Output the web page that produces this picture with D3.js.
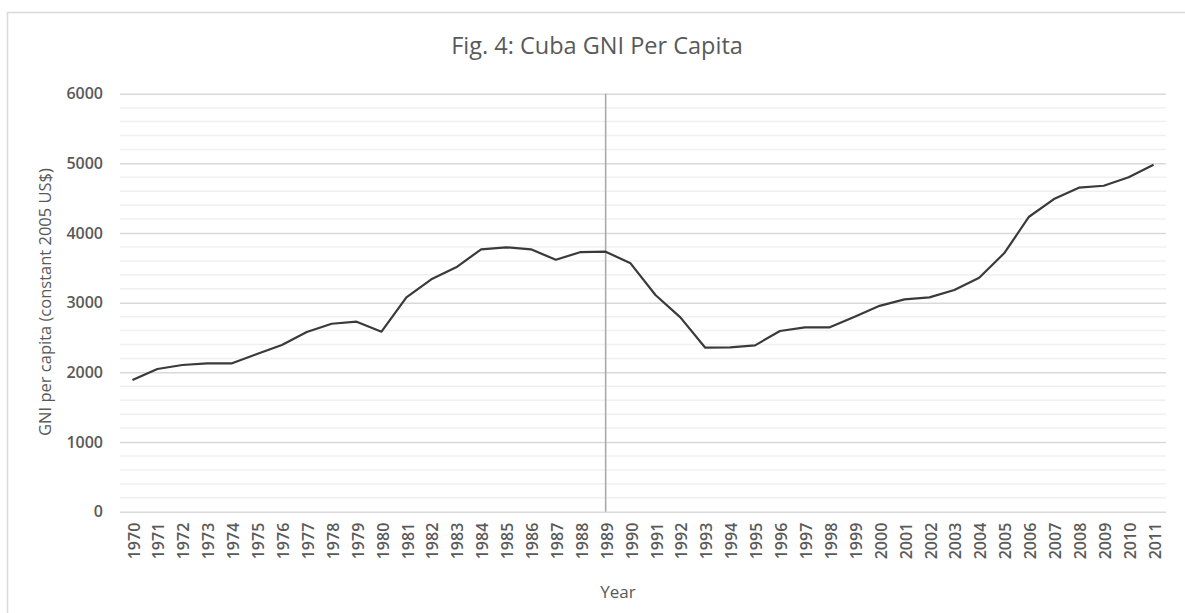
<!DOCTYPE html>
<html>
<head>
<meta charset="utf-8">
<script src="https://cdn.jsdelivr.net/npm/d3@7"></script>
<style>
  html, body { margin: 0; padding: 0; background: #fff; }
  svg { display: block; font-family: "Open Sans", "Noto Sans", sans-serif; }
</style>
</head>
<body>
<svg id="chart" width="1185" height="613"></svg>
<script>
const years = ["1970","1971","1972","1973","1974","1975","1976","1977","1978","1979","1980",
  "1981","1982","1983","1984","1985","1986","1987","1988","1989","1990","1991","1992","1993",
  "1994","1995","1996","1997","1998","1999","2000","2001","2002","2003","2004","2005","2006",
  "2007","2008","2009","2010","2011"];
const gniValues = [1890,2048,2106,2130,2130,2263,2392,2579,2698,2727,2584,
  3077,3336,3508,3766,3795,3766,3617,3727,3732,3565,3110,2790,2354,
  2360,2388,2594,2647,2647,2799,2955,3048,3077,3182,3359,3709,4234,
  4488,4651,4679,4800,4981];
const yTicks = [0,1000,2000,3000,4000,5000,6000];
const markerYear = "1989";
const titleText = "Fig. 4: Cuba GNI Per Capita";
const yTitle = "GNI per capita (constant 2005 US$)";
const xTitle = "Year";

const svg = d3.select("#chart");
const plotL = 120, plotR = 1166, plotT = 93.7, plotB = 511.7;

// frame
svg.append("rect").attr("x", 7.5).attr("y", 12.5).attr("width", 1190).attr("height", 620)
  .attr("fill", "#fff").attr("stroke", "#d9d9d9").attr("stroke-width", 1.5);

const x = d3.scaleBand().domain(years).range([plotL, plotR]).padding(0);
const y = d3.scaleLinear().domain([0, 6000]).range([plotB, plotT]);

// minor gridlines
const minor = d3.range(0, 6001, 200).filter(v => v % 1000 !== 0);
svg.append("g").selectAll("line").data(minor).join("line")
  .attr("x1", plotL).attr("x2", plotR)
  .attr("y1", d => y(d)).attr("y2", d => y(d))
  .attr("stroke", "#f0f0f0").attr("stroke-width", 1.5);

// major gridlines via axis
const yAxis = d3.axisLeft(y).tickValues(yTicks).tickFormat(d3.format("d"))
  .tickSize(-(plotR - plotL)).tickPadding(17);
const gy = svg.append("g").attr("transform", `translate(${plotL},0)`).call(yAxis);
gy.select(".domain").remove();
gy.selectAll(".tick line").attr("stroke", "#d9d9d9").attr("stroke-width", 1.5);
gy.selectAll(".tick text").attr("fill", "#595959").style("font-size", "16px")
  .style("font-weight", "600").attr("font-family", "Open Sans");

// x axis
const xAxis = d3.axisBottom(x).tickSize(0).tickPadding(0);
const gx = svg.append("g").attr("transform", `translate(0,${plotB})`).call(xAxis);
gx.select(".domain").remove();
gx.selectAll(".tick text")
  .attr("fill", "#595959").style("font-size", "16px").style("font-weight", "600")
  .attr("font-family", "Open Sans")
  .attr("text-anchor", "end").attr("dy", "0.35em")
  .attr("transform", "translate(1.5,11) rotate(-90)");

// vertical marker line at 1989
const mx = x(markerYear) + x.bandwidth() / 2;
svg.append("line").attr("x1", mx).attr("x2", mx).attr("y1", y(6000)).attr("y2", y(0))
  .attr("stroke", "#a6a6a6").attr("stroke-width", 1.5);

// data line
const line = d3.line()
  .x((d, i) => x(years[i]) + x.bandwidth() / 2)
  .y(d => y(d));
svg.append("path").datum(gniValues).attr("d", line)
  .attr("fill", "none").attr("stroke", "#3a3a3a").attr("stroke-width", 2.2)
  .attr("stroke-linejoin", "round");

// title
svg.append("text").attr("x", 597).attr("y", 54).attr("text-anchor", "middle")
  .attr("fill", "#595959").style("font-size", "23.5px").text(titleText);

// axis titles
svg.append("text").attr("transform", "translate(51,302) rotate(-90)")
  .attr("text-anchor", "middle").attr("fill", "#595959").style("font-size", "16.5px")
  .text(yTitle);
svg.append("text").attr("x", 618).attr("y", 598).attr("text-anchor", "middle")
  .attr("fill", "#595959").style("font-size", "17px").text(xTitle);
</script>
</body>
</html>
